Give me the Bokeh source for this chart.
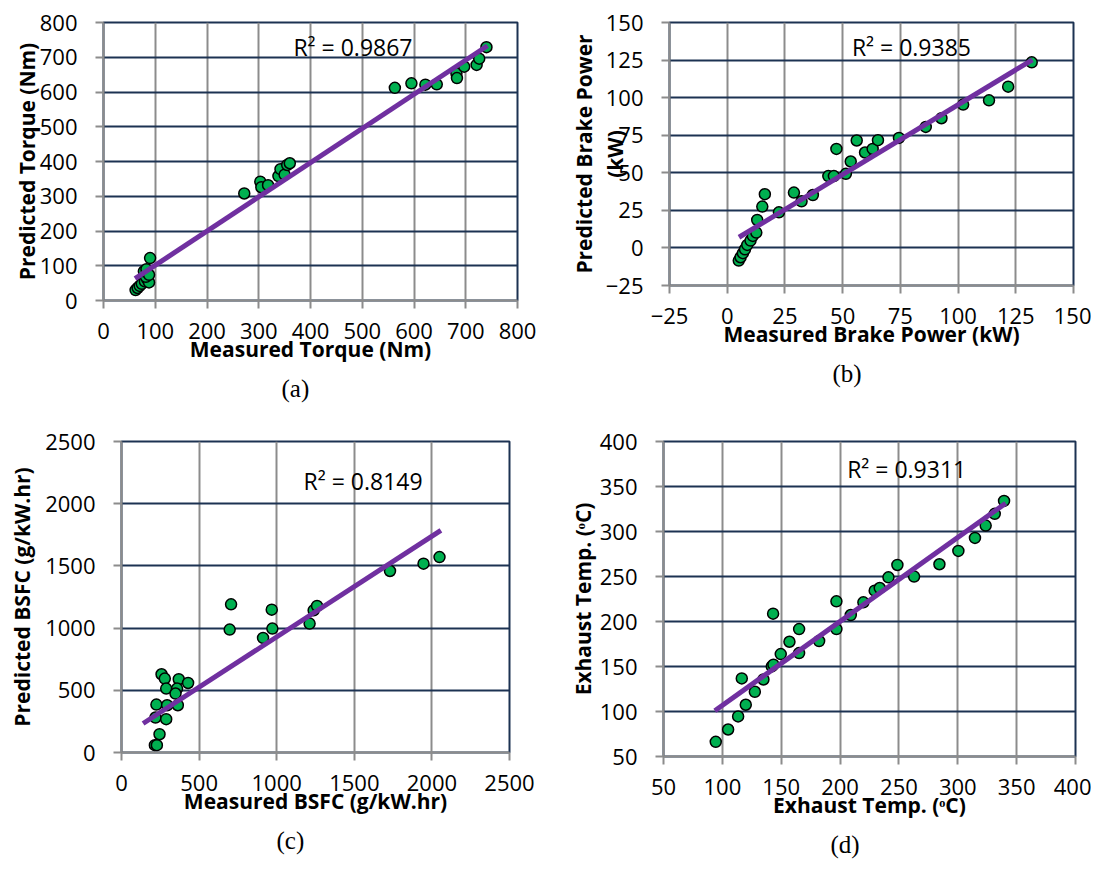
from bokeh.plotting import figure
from bokeh.layouts import column, row
from bokeh.models import Range1d, FixedTicker, Label
from bokeh.embed import file_html
from bokeh.resources import INLINE

# ---------------- data ----------------
torque_measured = [62, 66, 70, 74, 80, 85, 88, 82, 78, 83, 90, 88,
                   272, 303, 305, 318, 338, 342, 350, 355, 360,
                   563, 595, 622, 644, 682, 683, 697, 721, 726, 740]
torque_predicted = [30, 36, 42, 48, 55, 60, 52, 68, 84, 90, 122, 74,
                    308, 342, 326, 332, 358, 378, 362, 390, 395,
                    612, 625, 621, 622, 653, 640, 673, 678, 696, 729]
torque_trend_x = [61, 742]
torque_trend_y = [63, 733]
torque_r2 = "R² = 0.9867"
torque_ticks = [0, 100, 200, 300, 400, 500, 600, 700, 800]

power_measured = [5, 5.8, 6.8, 7.7, 8.7, 10.1, 11.1, 12.6, 13, 15.2, 16.3, 22.4,
                  28.9, 32.2, 37.1, 43.8, 46.2, 47.3, 51.4, 53.5, 56.1, 59.7,
                  63, 65.3, 74.4, 86, 92.8, 102.2, 113.4, 121.7, 131.9]
power_predicted = [-8.4, -6.2, -3.5, -0.9, 2, 4.9, 8, 10.2, 18.6, 27.5, 35.8, 23.7,
                   36.8, 31, 35.2, 47.8, 47.8, 65.9, 49.3, 57.5, 71.5, 63.5,
                   65.9, 71.7, 73.2, 80.5, 86.3, 95.4, 98.2, 107.3, 123.5]
power_trend_x = [5.1, 132.2]
power_trend_y = [7.1, 125.2]
power_r2 = "R² = 0.9385"
power_ticks = [-25, 0, 25, 50, 75, 100, 125, 150]

bsfc_measured = [258, 279, 369, 429, 288, 358, 348, 225, 294, 363, 219, 288, 245, 215, 228,
                 697, 706, 912, 968, 972, 1212, 1238, 1260, 1730, 1946, 2049]
bsfc_predicted = [629, 594, 589, 559, 514, 514, 474, 385, 380, 380, 281, 268, 147, 59, 59,
                  988, 1191, 921, 1148, 996, 1036, 1143, 1178, 1459, 1518, 1571]
bsfc_trend_x = [139, 2058]
bsfc_trend_y = [233, 1785]
bsfc_r2 = "R² = 0.8149"
bsfc_ticks = [0, 500, 1000, 1500, 2000, 2500]

exhaust_measured = [94.4, 104.9, 113.4, 119.9, 116.5, 127.6, 134.9, 142, 143.4, 143.1,
                    149.6, 157, 165.2, 165.2, 182.2, 196.9, 196.9, 209.1, 219.8, 229.4,
                    233.7, 241.1, 248.7, 262.9, 284.4, 300.5, 314.6, 323.7, 331.4, 339.3]
exhaust_predicted = [66.3, 80, 94.5, 107.5, 136.8, 121.9, 135.6, 150.1, 152, 208.7,
                     163.8, 177.5, 191.6, 164.9, 178.3, 222.4, 191.6, 207.2, 221.3, 234.3,
                     237.2, 249.1, 262.8, 249.9, 263.6, 278.4, 292.9, 306.6, 319.6, 334]
exhaust_trend_x = [93.6, 340.7]
exhaust_trend_y = [100.8, 331.4]
exhaust_r2 = "R² = 0.9311"
exhaust_ticks = [50, 100, 150, 200, 250, 300, 350, 400]

# ---------------- styling ----------------
NAVY = "#1c3252"
GRAY = "#8c8c8c"
GREEN = "#00b050"
PURPLE = "#7030a0"
FONT = "Open Sans"


def panel(xs, ys, tx, ty, ticks_x, ticks_y, xlabel, ylabel, r2, r2_xy, caption, cap_offset,
          fw, fh, bl, br, bt, bb, ylab_standoff, ylab_line_height=1.2):
    p = figure(frame_width=fw, frame_height=fh,
               min_border_left=bl, min_border_right=br,
               min_border_top=bt, min_border_bottom=bb,
               x_range=Range1d(ticks_x[0], ticks_x[-1]),
               y_range=Range1d(ticks_y[0], ticks_y[-1]),
               output_backend="svg", toolbar_location=None,
               title=caption, title_location="below")
    p.background_fill_color = "white"
    p.border_fill_color = "white"
    p.outline_line_color = NAVY
    p.outline_line_width = 2

    p.title.text_font = "Liberation Serif"
    p.title.text_font_style = "normal"
    p.title.text_font_size = "25px"
    p.title.text_color = "black"
    p.title.align = "left"
    p.title.offset = cap_offset
    p.title.standoff = 15

    p.xaxis.ticker = FixedTicker(ticks=ticks_x)
    p.yaxis.ticker = FixedTicker(ticks=ticks_y)
    for ax in (p.xaxis, p.yaxis):
        ax.axis_line_color = GRAY
        ax.axis_line_width = 2
        ax.major_tick_line_color = GRAY
        ax.major_tick_line_width = 2
        ax.major_tick_out = 8
        ax.major_tick_in = 0
        ax.minor_tick_line_color = None
        ax.major_label_text_font = FONT
        ax.major_label_text_font_size = "22px"
        ax.major_label_text_color = "black"
        ax.axis_label_text_font = FONT
        ax.axis_label_text_font_size = "21px"
        ax.axis_label_text_font_style = "bold"
        ax.axis_label_text_color = "black"
    p.xaxis.axis_label = xlabel
    p.yaxis.axis_label = ylabel
    p.xaxis.major_label_standoff = 14
    p.yaxis.major_label_standoff = 18
    p.xaxis.axis_label_standoff = -7
    p.yaxis.axis_label_standoff = ylab_standoff
    p.yaxis.axis_label_text_line_height = ylab_line_height

    p.xgrid.grid_line_color = GRAY
    p.xgrid.grid_line_width = 2
    p.ygrid.grid_line_color = NAVY
    p.ygrid.grid_line_width = 2

    p.scatter(xs, ys, size=11, fill_color=GREEN, line_color="black", line_width=1.5)
    # linear trendline as drawn in the reference
    p.line(tx, ty, line_color=PURPLE, line_width=5)

    p.add_layout(Label(x=r2_xy[0], y=r2_xy[1], text=r2, text_font=FONT,
                       text_font_size="23px", text_baseline="middle",
                       text_align="left", text_color="black"))
    return p


pa = panel(torque_measured, torque_predicted, torque_trend_x, torque_trend_y,
           torque_ticks, torque_ticks,
           "Measured Torque (Nm)", "Predicted Torque (Nm)", torque_r2, (367, 730),
           "(a)", 178, 414, 278, 103, 31, 18, 119, -4)
pb = panel(power_measured, power_predicted, power_trend_x, power_trend_y,
           power_ticks, power_ticks,
           "Measured Brake Power (kW)", "Predicted Brake Power\n(kW)", power_r2, (54, 134),
           "(b)", 163, 404, 263, 121, 18, 22, 130, -26, 1.1)
pc = panel(bsfc_measured, bsfc_predicted, bsfc_trend_x, bsfc_trend_y,
           bsfc_ticks, bsfc_ticks,
           "Measured BSFC (g/kW.hr)", "Predicted BSFC (g/kW.hr)", bsfc_r2, (1173, 2179),
           "(c)", 155, 388, 311, 121, 39, 26, 116, 6)
pd = panel(exhaust_measured, exhaust_predicted, exhaust_trend_x, exhaust_trend_y,
           exhaust_ticks, exhaust_ticks,
           "Exhaust Temp. (ᵒC)", "Exhaust Temp. (ᵒC)", exhaust_r2, (206, 369.5),
           "(d)", 167, 412, 315, 115, 16, 24, 114, 0)

layout = column(row(pa, pb), row(pc, pd))
open("out.html", "w").write(file_html(layout, INLINE))
